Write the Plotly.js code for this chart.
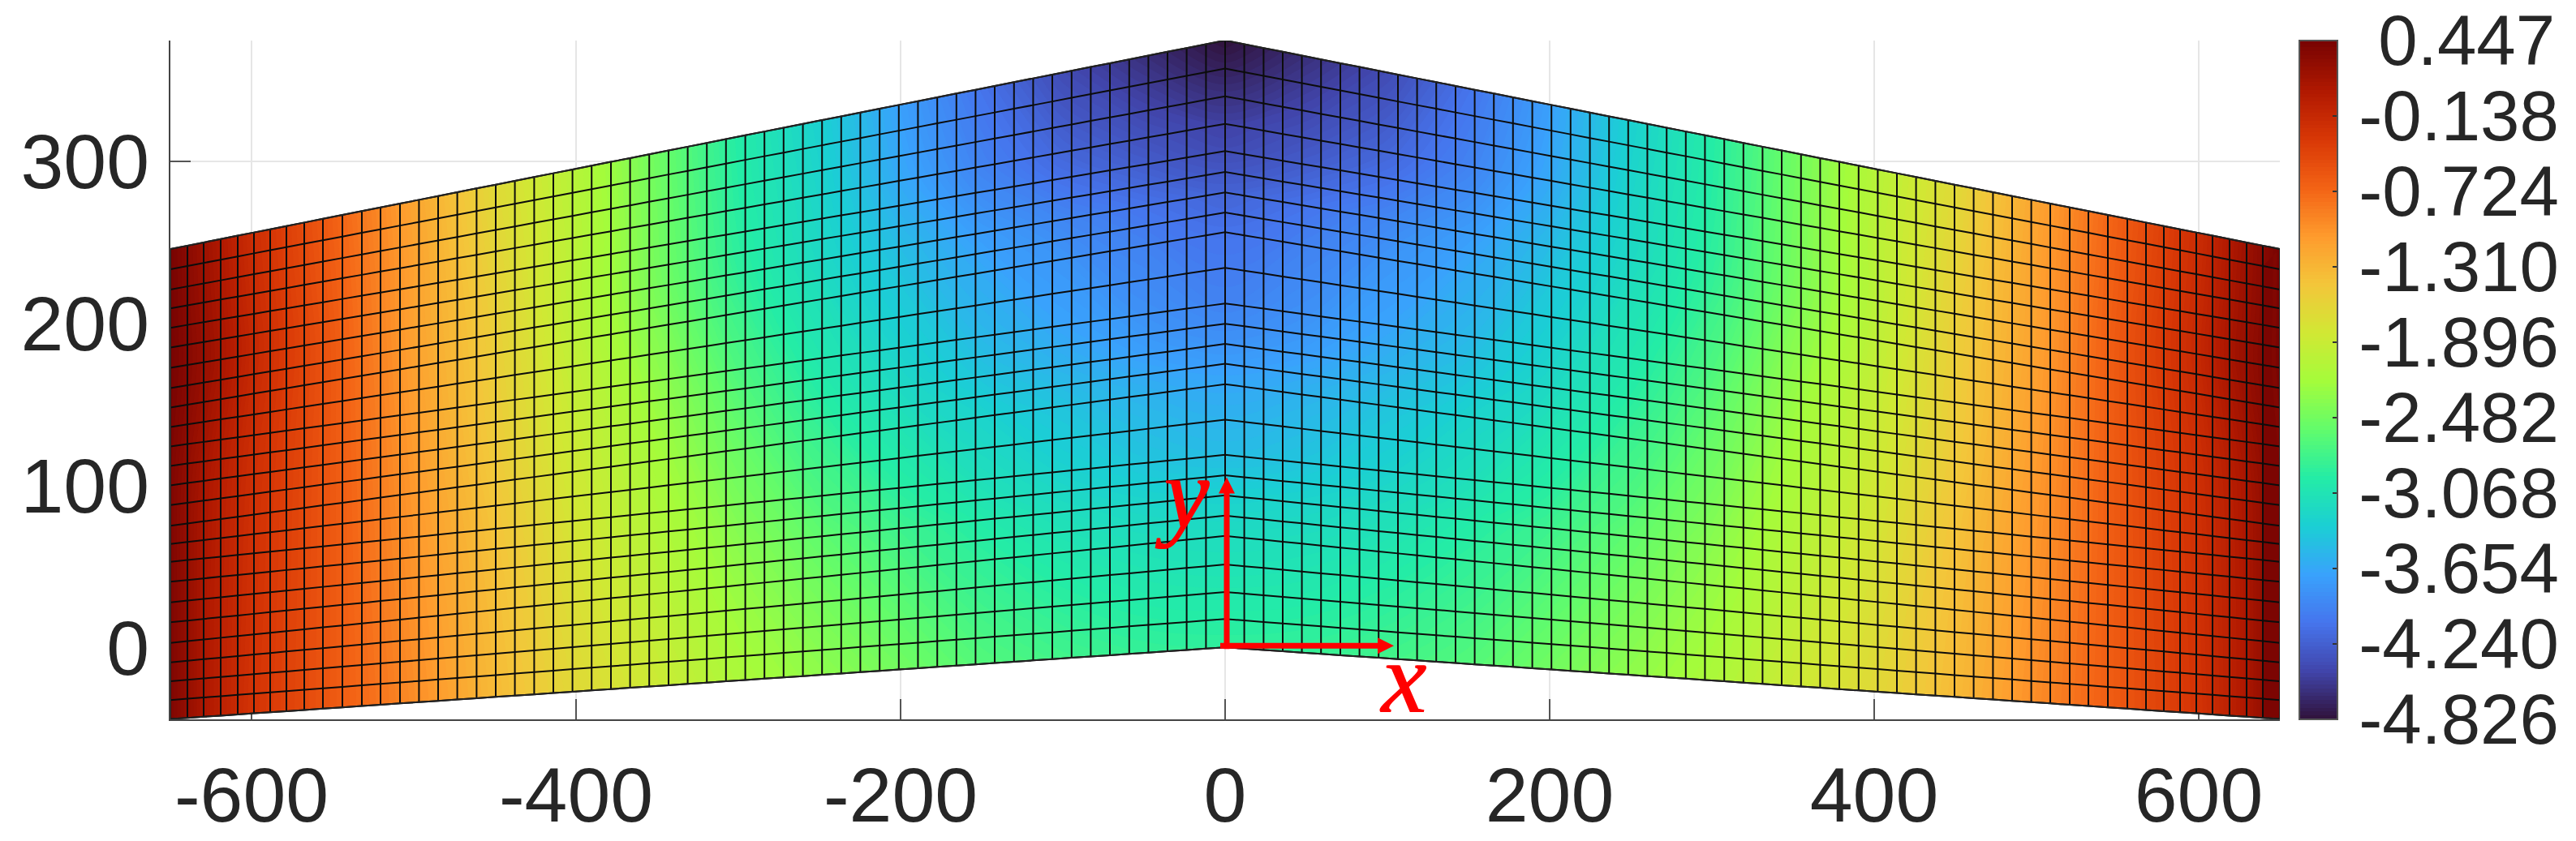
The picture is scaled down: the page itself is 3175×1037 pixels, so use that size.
<!DOCTYPE html>
<html><head><meta charset="utf-8">
<script src="https://cdn.plot.ly/plotly-3.0.1.min.js"></script>
<style>html,body{margin:0;padding:0;background:#fff}</style></head>
<body><div id="chart" style="width:3175px;height:1037px"></div>
<script>
// mesh column positions on one side of the fold (mirrored for the other side)
const meshColumns = [0,11.8,23.7,35.5,47.3,59.1,71,82.8,94.6,106.5,118.3,130.1,142,153.8,165.6,177.4,189.3,201.1,212.9,224.8,236.6,248.4,260.2,272.1,283.9,295.7,307.6,319.4,331.2,343,354.9,366.7,378.5,390.4,402.2,414,425.8,437.7,449.5,461.3,473.2,485,496.8,508.5,520.5,532,544,556,567.5,578.5,588.5,598.5,608.5,619,629.5,639.5,650];
// mesh row heights, bottom to top, read on the centre line and on the outer edge
const rowsAtCentre = [0,17.5,34.2,51.2,68.8,81.3,93.8,106.2,118.8,140.5,162.4,175,187.2,199.7,212.2,234.2,256.2,268.3,280.7,293.3,306.2,323,340,357.1,374.5];
const rowsAtEdge = [-44.2,-32.5,-20.9,-9.2,2.8,15.5,27.8,40.5,52.8,63.8,75,87.8,100,112,124,136,148,160,172.5,185,197.2,209.2,220.8,233.3,245.8];

// field values
const fieldCols = [0,50,100,150,200,250,300,350,400,450,500,550,600,625,650];
const fieldRows = [0,6,12,18,21,24];
const fieldRow0  = [-2.875,-2.849,-2.77,-2.664,-2.48,-2.321,-2.137,-1.873,-1.662,-1.346,-0.977,-0.608,-0.265,0.025,0.394];
const fieldRow6  = [-3.297,-3.244,-3.139,-2.98,-2.796,-2.585,-2.348,-2.058,-1.768,-1.399,-1.029,-0.608,-0.239,0.025,0.394];
const fieldRow12 = [-3.824,-3.719,-3.561,-3.402,-3.191,-2.928,-2.611,-2.242,-1.9,-1.504,-1.082,-0.608,-0.212,0.052,0.394];
const fieldRow18 = [-4.22,-4.088,-3.93,-3.745,-3.481,-3.191,-2.875,-2.453,-2.031,-1.557,-1.135,-0.608,-0.133,0.183,0.447];
const fieldRow21 = [-4.483,-4.351,-4.193,-3.956,-3.64,-3.244,-2.928,-2.48,-2.031,-1.61,-1.135,-0.634,-0.16,0.157,0.447];
const fieldRow24 = [-4.826,-4.615,-4.404,-4.088,-3.719,-3.297,-2.954,-2.506,-2.058,-1.662,-1.161,-0.66,-0.186,0.131,0.447];

const colorTicks = [0.447,-0.138,-0.724,-1.310,-1.896,-2.482,-3.068,-3.654,-4.240,-4.826];
const colorLabels = ['\u200A\u00A00.447','\u200A-0.138','\u200A-0.724','\u200A-1.310','\u200A-1.896','\u200A-2.482','\u200A-3.068','\u200A-3.654','\u200A-4.240','\u200A-4.826'];
const turboStops = [0,0.0714,0.1429,0.2143,0.2857,0.3571,0.4286,0.5,0.5714,0.6429,0.7143,0.7857,0.8571,0.9286,1];
const turboColors = ['#30123b','#4145ab','#4675ed','#39a2fc','#1bcfd4','#24eca6','#61fc6c','#a4fc3b','#d1e834','#f3c63a','#fe9b2d','#f36315','#d93806','#b11901','#7a0402'];
const xTicks = [-600,-400,-200,0,200,400,600];
const xLabels = ['-600','-400','-200','0','200','400','600'];
const yTicks = [0,100,200,300];
const yLabels = ['0','100','200','300'];
const xRange = [-650,650];
const yRange = [-44.4,374.4];
const zRange = [-4.826,0.447];
const arrowLen = 104;

const mirror = r => r.slice(1).reverse().concat(r);
const aVals = mirror(meshColumns).map((v,i)=> i<meshColumns.length-1 ? -v : v);
const bVals = rowsAtCentre.map((_,i)=>i);
const meshX = bVals.map(()=>aVals.slice());
const meshY = bVals.map(j=>aVals.map(x=>rowsAtCentre[j]+(rowsAtEdge[j]-rowsAtCentre[j])*Math.abs(x)/650));
const fieldA = mirror(fieldCols).map((v,i)=> i<fieldCols.length-1 ? -v : v);
const fieldZ = [fieldRow0,fieldRow6,fieldRow12,fieldRow18,fieldRow21,fieldRow24].map(mirror);

const gridAxis = {tickmode:'array',arraytick0:0,arraydtick:1,showticklabels:'none',minorgridcount:0,
  gridcolor:'#0c0c0c',gridwidth:2,smoothing:0,showline:false,
  startline:true,endline:true,startlinecolor:'#222',endlinecolor:'#222',startlinewidth:2,endlinewidth:2,
  title:{text:''}};

const data = [
 {type:'contourcarpet',carpet:'mesh',a:fieldA,b:fieldRows,z:fieldZ,
  colorscale:turboStops.map((s,i)=>[s,turboColors[i]]),zauto:false,zmin:zRange[0],zmax:zRange[1],autocontour:false,
  contours:{start:zRange[0],end:zRange[1],size:0.03,coloring:'fill',showlines:false},
  line:{width:0},
  colorbar:{x:1.00923,xanchor:'left',xpad:0,ypad:0,y:0.5,yanchor:'middle',len:837,lenmode:'pixels',
    thickness:47,thicknessmode:'pixels',outlinecolor:'#555',outlinewidth:2,
    tickmode:'array',tickvals:colorTicks,ticktext:colorLabels,ticks:'inside',ticklen:7,tickwidth:2,tickcolor:'#333',
    tickfont:{family:'Liberation Sans',size:87,color:'#262626'}}},
 {type:'carpet',carpet:'mesh',a:aVals,b:bVals,x:meshX,y:meshY,aaxis:gridAxis,baxis:gridAxis}
];

const redShape = (path)=>({type:'path',xref:'x',yref:'y',path,fillcolor:'#ff0000',line:{width:0},layer:'above'});
const layout = {
 width:3175,height:1037,autosize:false,showlegend:false,paper_bgcolor:'#fff',plot_bgcolor:'#fff',
 margin:{l:210,r:365,t:50,b:150,pad:0},
 font:{family:'Liberation Sans',color:'#262626'},
 xaxis:{range:xRange,tickmode:'array',tickvals:xTicks,ticktext:xLabels,ticks:'inside',ticklen:25,tickwidth:2,tickcolor:'#555',
   showline:true,linecolor:'#444',linewidth:2,showgrid:true,gridcolor:'#e6e6e6',gridwidth:2,zeroline:false,layer:'below traces',
   tickfont:{family:'Liberation Sans',size:95,color:'#262626'},ticklabelstandoff:10},
 yaxis:{range:yRange,tickmode:'array',tickvals:yTicks,ticktext:yLabels,ticks:'inside',ticklen:25,tickwidth:2,tickcolor:'#555',
   showline:true,linecolor:'#444',linewidth:2,showgrid:true,gridcolor:'#e6e6e6',gridwidth:2,zeroline:false,layer:'below traces',
   tickfont:{family:'Liberation Sans',size:95,color:'#262626'},ticklabelstandoff:5},
 shapes:[
  {type:'line',xref:'x',yref:'y',x0:-3,y0:1,x1:arrowLen-8,y1:1,line:{color:'#ff0000',width:7},layer:'above'},
  {type:'line',xref:'x',yref:'y',x0:1,y0:-1,x1:1,y1:arrowLen-8,line:{color:'#ff0000',width:7},layer:'above'},
  redShape(`M ${arrowLen},1 L ${arrowLen-10},6 L ${arrowLen-10},-4 Z`),
  redShape(`M 1,${arrowLen+1} L 6,${arrowLen-9} L -4,${arrowLen-9} Z`)
 ],
 annotations:[
  {xref:'x',yref:'y',x:-27,y:95,text:'<i>y</i>',showarrow:false,font:{family:'Liberation Serif',size:125,color:'#ff0000',shadow:'1.5px 0 0 #ff0000'}},
  {xref:'x',yref:'y',x:109,y:-19,text:'<i>x</i>',showarrow:false,font:{family:'Liberation Serif',size:125,color:'#ff0000',shadow:'1.5px 0 0 #ff0000'}}
 ]
};
Plotly.newPlot('chart',data,layout,{staticPlot:true,displayModeBar:false});
</script></body></html>
